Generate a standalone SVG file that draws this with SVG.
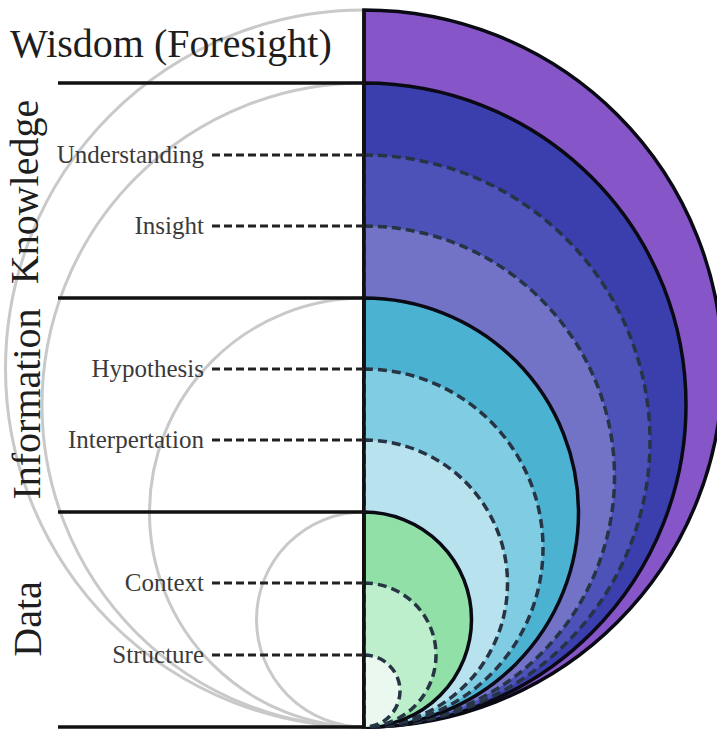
<svg xmlns="http://www.w3.org/2000/svg" width="717" height="730" viewBox="0 0 717 730">
<style>
.ghost{fill:none;stroke:#c9c9c9;stroke-width:3}
.solid{stroke:#0a0a14;stroke-width:3.5}
.dash{stroke:#263444;stroke-width:3.5;stroke-dasharray:9 5}
.rule{stroke:#111;stroke-width:3.5;fill:none}
.lead{stroke:#222;stroke-width:3;stroke-dasharray:8 4;fill:none}
.big{font-family:"Liberation Serif","Times New Roman",serif;font-size:40px;fill:#1e1e1e}
.lab{font-family:"Liberation Serif","Times New Roman",serif;font-size:25px;fill:#3a3a3a;text-anchor:end}
</style>
<rect width="717" height="730" fill="#ffffff"/>
<g id="ghost-circles">
<path class="ghost" d="M364,10 A358.5,358.5 0 0 0 364,727"/>
<path class="ghost" d="M364,83 A322,322 0 0 0 364,727"/>
<path class="ghost" d="M364,298 A214.5,214.5 0 0 0 364,727"/>
<path class="ghost" d="M364,512 A107.5,107.5 0 0 0 364,727"/>
</g>
<g id="wisdom">
<path class="solid" fill="#8655c8" d="M364,10 A358.5,358.5 0 0 1 364,727 Z"/>
<text class="big" x="10" y="57">Wisdom (Foresight)</text>
</g>
<g id="knowledge">
<path class="solid" fill="#3b3fae" d="M364,83 A322,322 0 0 1 364,727 Z"/>
<text class="big" transform="translate(38,192) rotate(-90)" text-anchor="middle">Knowledge</text>
</g>
<g id="understanding">
<path class="dash" fill="#4d52b8" d="M364,155 A286,286 0 0 1 364,727 Z"/>
<text class="lab" x="204" y="163">Understanding</text>
</g>
<g id="insight">
<path class="dash" fill="#7273c6" d="M364,226 A250.5,250.5 0 0 1 364,727 Z"/>
<text class="lab" x="204" y="234">Insight</text>
</g>
<g id="information">
<path class="solid" fill="#4cb2d2" d="M364,298 A214.5,214.5 0 0 1 364,727 Z"/>
<text class="big" transform="translate(40,404) rotate(-90)" text-anchor="middle">Information</text>
</g>
<g id="hypothesis">
<path class="dash" fill="#80cce2" d="M364,369 A179,179 0 0 1 364,727 Z"/>
<text class="lab" x="204" y="377">Hypothesis</text>
</g>
<g id="interpretation">
<path class="dash" fill="#b8e2ee" d="M364,440 A143.5,143.5 0 0 1 364,727 Z"/>
<text class="lab" x="204" y="448">Interpertation</text>
</g>
<g id="data">
<path class="solid" fill="#90e0a8" d="M364,512 A107.5,107.5 0 0 1 364,727 Z"/>
<text class="big" transform="translate(41,619) rotate(-90)" text-anchor="middle">Data</text>
</g>
<g id="context">
<path class="dash" fill="#bdefcc" d="M364,583 A72,72 0 0 1 364,727 Z"/>
<text class="lab" x="204" y="591">Context</text>
</g>
<g id="structure">
<path class="dash" fill="#eaf8f0" d="M364,655 A36,36 0 0 1 364,727 Z"/>
<text class="lab" x="204" y="663">Structure</text>
</g>
<g id="connectors">
<line class="rule" x1="58" y1="83" x2="364" y2="83"/>
<line class="rule" x1="58" y1="298" x2="364" y2="298"/>
<line class="rule" x1="58" y1="512" x2="364" y2="512"/>
<line class="rule" x1="58" y1="727" x2="364" y2="727"/>
<line class="rule" x1="364" y1="9" x2="364" y2="728"/>
<line class="lead" x1="212" y1="155" x2="364" y2="155"/>
<line class="lead" x1="212" y1="226" x2="364" y2="226"/>
<line class="lead" x1="212" y1="369" x2="364" y2="369"/>
<line class="lead" x1="212" y1="440" x2="364" y2="440"/>
<line class="lead" x1="212" y1="583" x2="364" y2="583"/>
<line class="lead" x1="212" y1="655" x2="364" y2="655"/>
</g>
</svg>
